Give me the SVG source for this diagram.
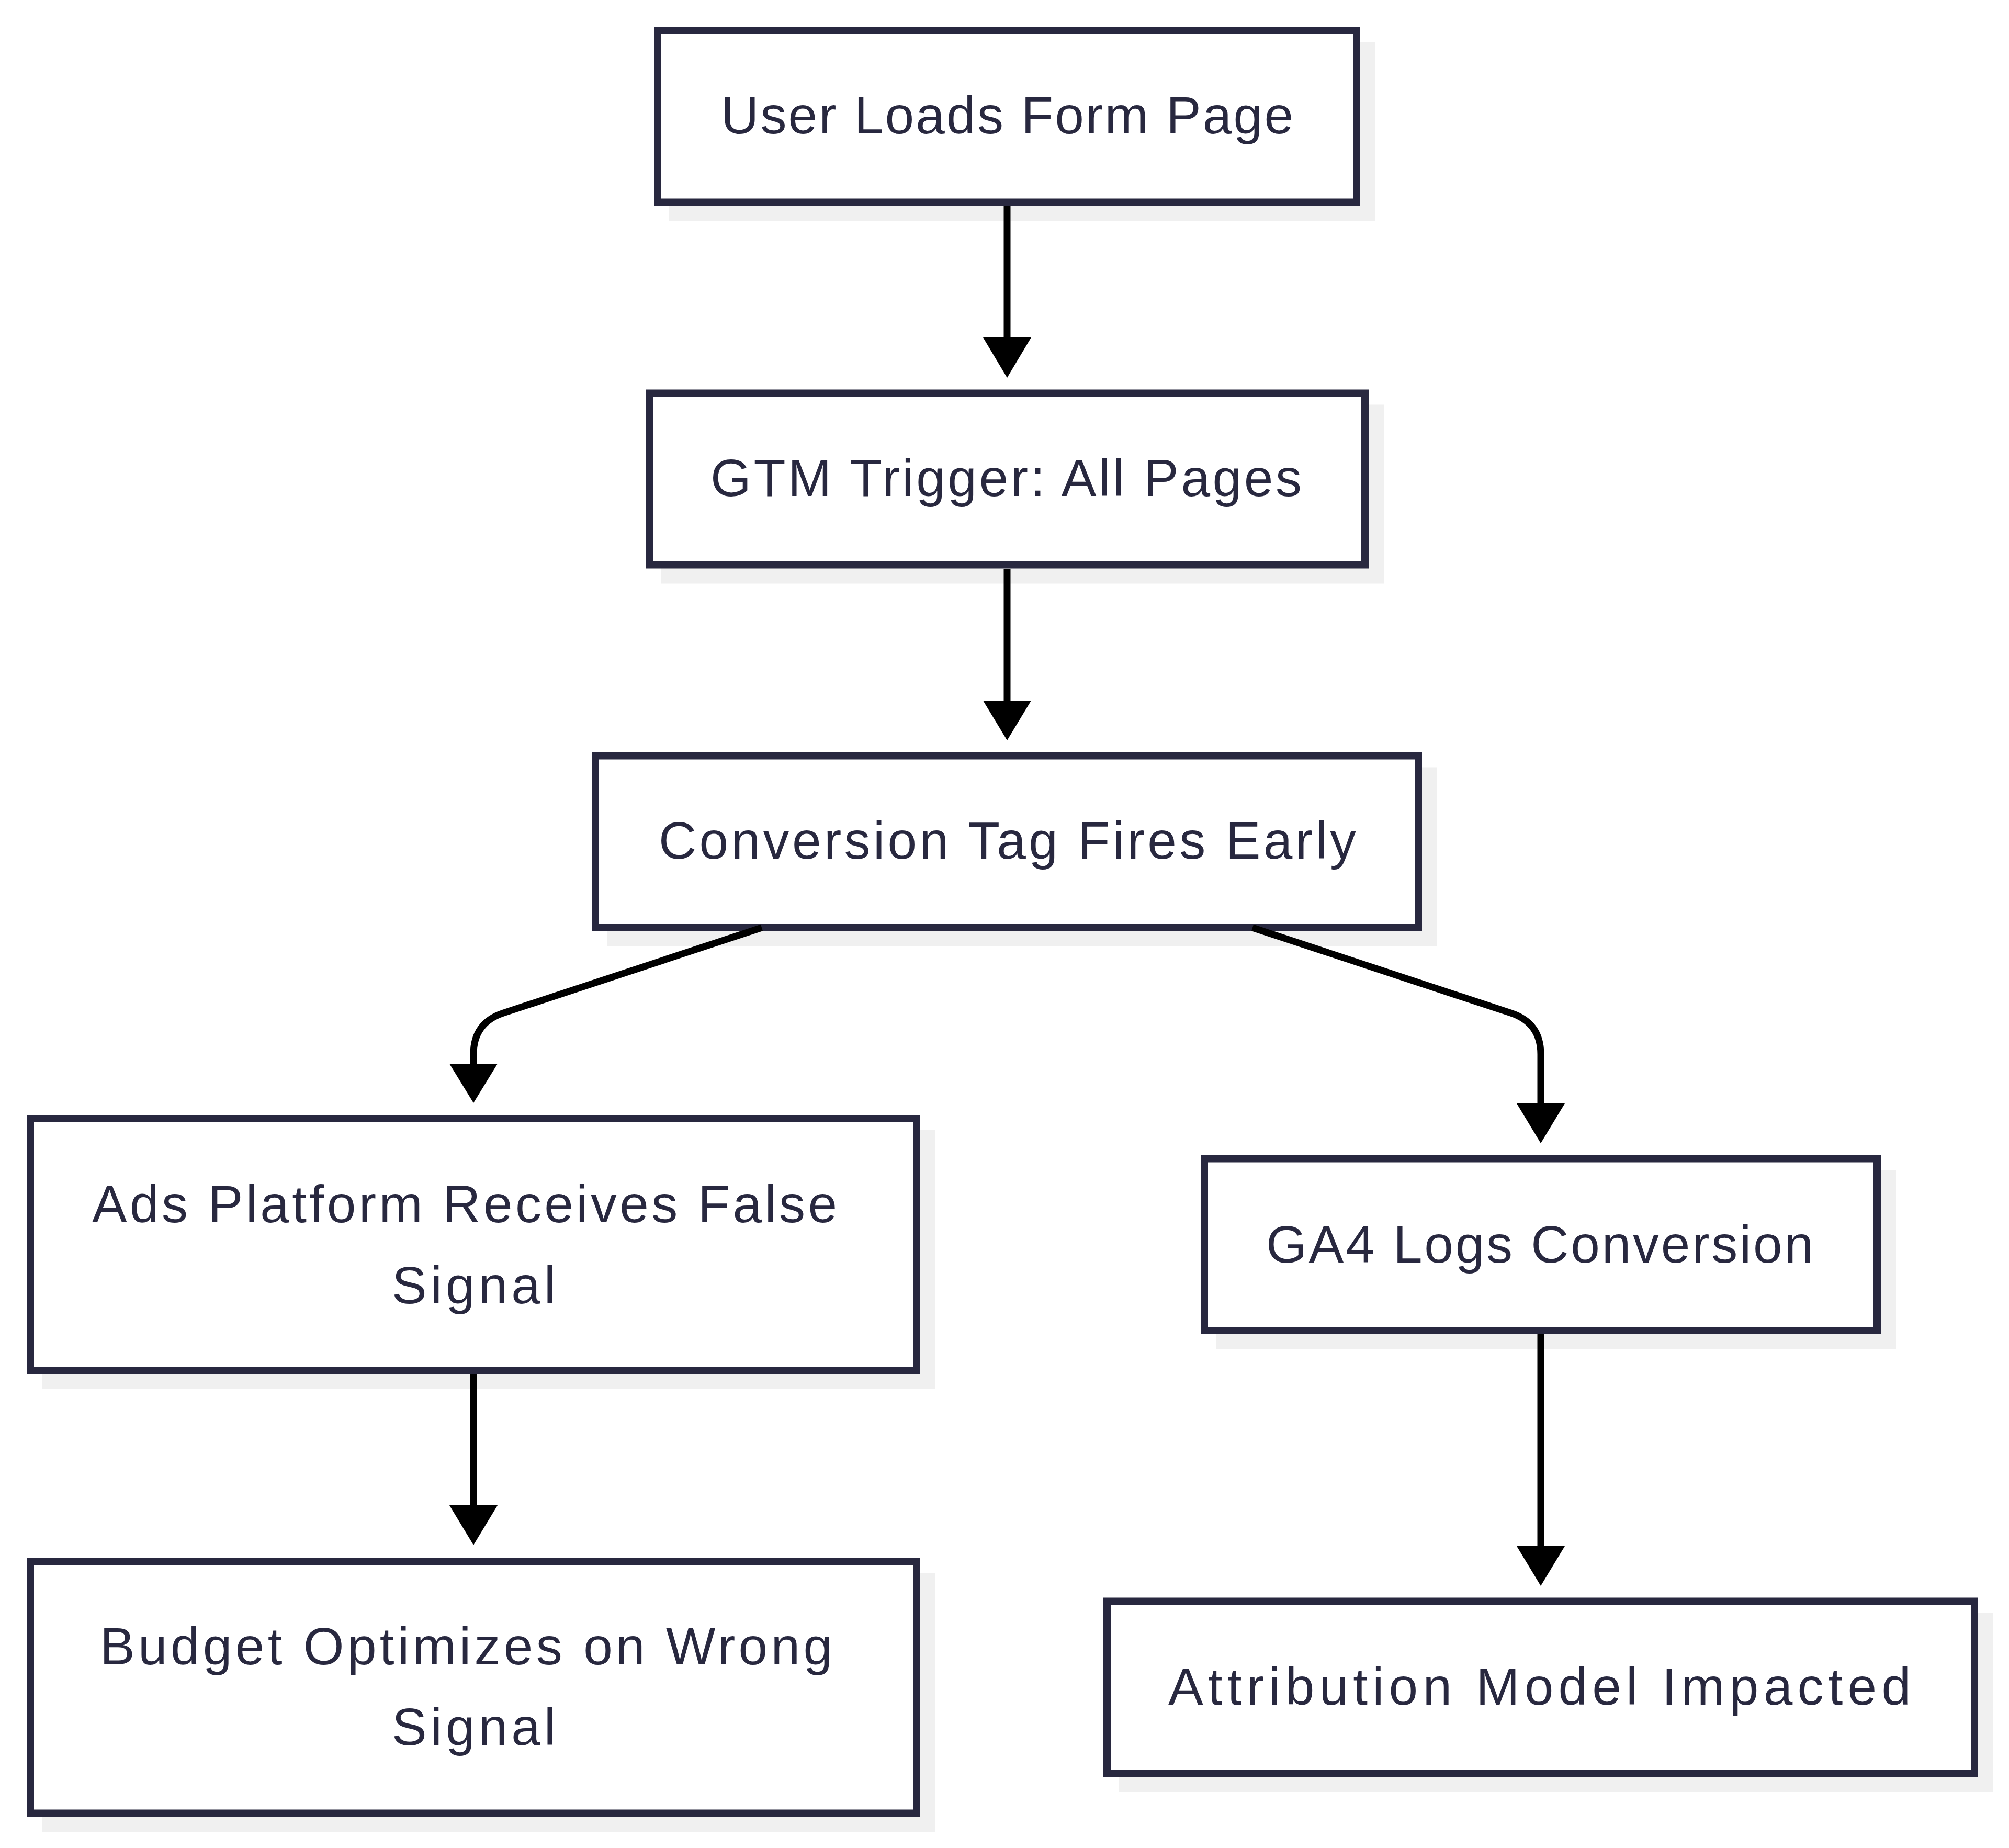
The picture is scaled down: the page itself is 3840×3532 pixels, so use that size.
<svg xmlns="http://www.w3.org/2000/svg" width="3840" height="3532" viewBox="0 0 3840 3532">
<style>
.shadow{fill:#f0f0f0;stroke:none}
.box{fill:#ffffff;stroke:#28283f;stroke-width:14}
.lbl{font-family:"Liberation Sans","DejaVu Sans",sans-serif;font-size:100px;fill:#28283f;text-anchor:middle}
.edge{fill:none;stroke:#000000;stroke-width:13}
.head{fill:#000000;stroke:none}
</style>
<rect x="0" y="0" width="3840" height="3532" fill="#ffffff"/>
<g id="n1">
<rect class="shadow" x="1279" y="80" width="1350" height="342.5"/>
<rect class="box" x="1257" y="58" width="1336" height="328.5"/>
<text class="lbl" x="1925" y="255" textLength="1094" lengthAdjust="spacing">User Loads Form Page</text>
</g>
<g id="n2">
<rect class="shadow" x="1263" y="773.5" width="1382" height="342"/>
<rect class="box" x="1241" y="751.5" width="1368" height="328"/>
<text class="lbl" x="1923" y="948" textLength="1130" lengthAdjust="spacing">GTM Trigger: All Pages</text>
</g>
<g id="n3">
<rect class="shadow" x="1160" y="1466.5" width="1587" height="342.5"/>
<rect class="box" x="1138" y="1444.5" width="1573" height="328.5"/>
<text class="lbl" x="1925.5" y="1641" textLength="1333" lengthAdjust="spacing">Conversion Tag Fires Early</text>
</g>
<g id="n4">
<rect class="shadow" x="80" y="2160" width="1708" height="495"/>
<rect class="box" x="58" y="2138" width="1694" height="481"/>
<text class="lbl" x="888" y="2335.5" textLength="1424" lengthAdjust="spacing">Ads Platform Receives False</text>
<text class="lbl" x="905.5" y="2491" textLength="313" lengthAdjust="spacing">Signal</text>
</g>
<g id="n5">
<rect class="shadow" x="2324" y="2236.5" width="1300" height="342.5"/>
<rect class="box" x="2302" y="2214.5" width="1286" height="328.5"/>
<text class="lbl" x="2943" y="2412.5" textLength="1046" lengthAdjust="spacing">GA4 Logs Conversion</text>
</g>
<g id="n6">
<rect class="shadow" x="80" y="3006.5" width="1708" height="495"/>
<rect class="box" x="58" y="2984.5" width="1694" height="481"/>
<text class="lbl" x="891" y="3181" textLength="1400" lengthAdjust="spacing">Budget Optimizes on Wrong</text>
<text class="lbl" x="905.5" y="3335" textLength="313" lengthAdjust="spacing">Signal</text>
</g>
<g id="n7">
<rect class="shadow" x="2138" y="3082.5" width="1672" height="342.5"/>
<rect class="box" x="2116" y="3060.5" width="1658" height="328.5"/>
<text class="lbl" x="2942.5" y="3257.5" textLength="1419" lengthAdjust="spacing">Attribution Model Impacted</text>
</g>
<g id="connectors">
<path class="edge" d="M1925 393 L1925 647"/>
<polygon class="head" points="1879,645 1971,645 1925,722"/>
<path class="edge" d="M1925 1087 L1925 1341"/>
<polygon class="head" points="1879,1339 1971,1339 1925,1415"/>
<path class="edge" d="M1456 1773 L962 1936.2 Q905 1955 905 2015 L905 2035"/>
<polygon class="head" points="859,2033 951,2033 905,2108"/>
<path class="edge" d="M2394 1773 L2888 1936.2 Q2945 1955 2945 2015 L2945 2111"/>
<polygon class="head" points="2899,2109 2991,2109 2945,2185"/>
<path class="edge" d="M905 2626 L905 2879"/>
<polygon class="head" points="859,2877 951,2877 905,2953"/>
<path class="edge" d="M2945 2550 L2945 2957"/>
<polygon class="head" points="2899,2955 2991,2955 2945,3031"/>
</g>
</svg>
